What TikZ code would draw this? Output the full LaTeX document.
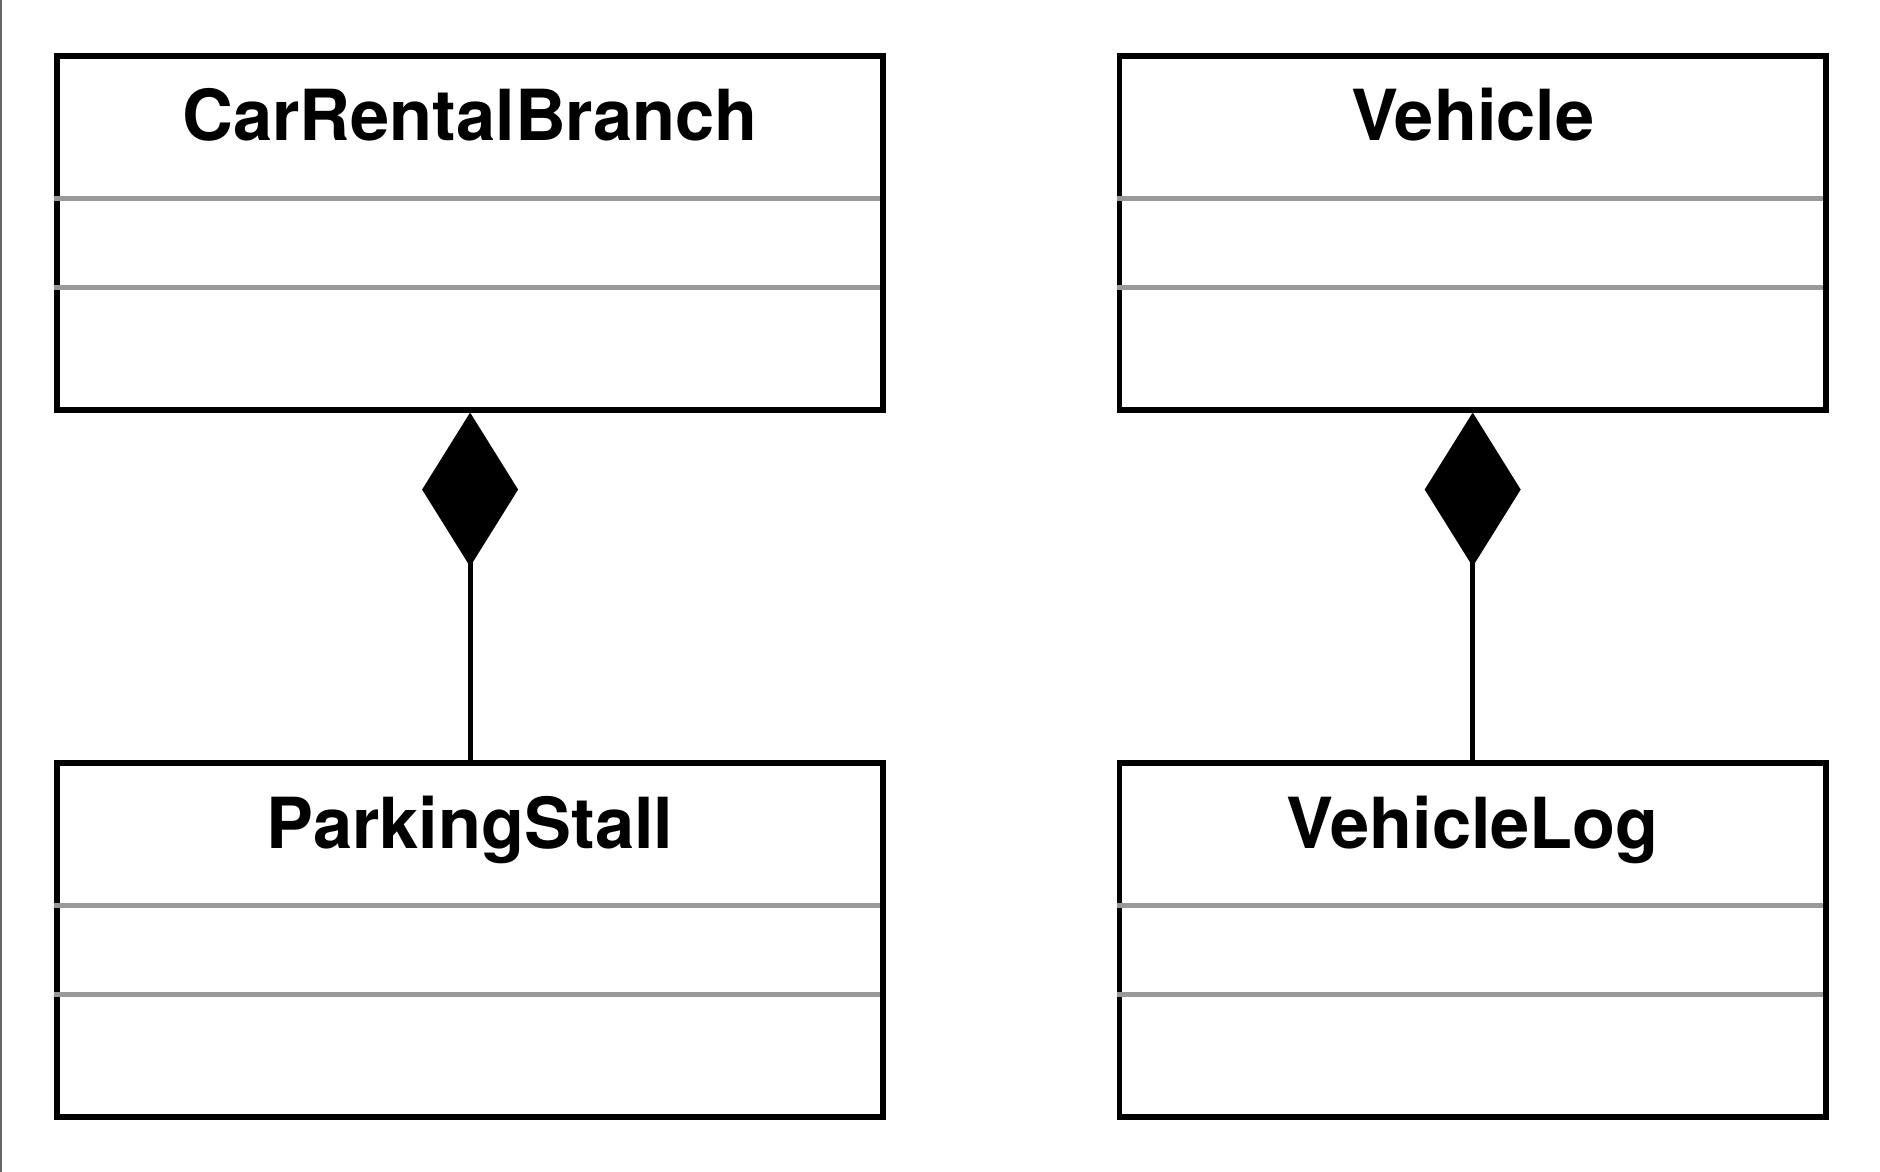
\documentclass[tikz,border=0pt]{standalone}
\usepackage{fontspec}
\setmainfont{TeX Gyre Heros}
\usetikzlibrary{arrows.meta}

\tikzset{
  classbox/.style={draw, line width=2.75pt, minimum height=177pt, inner sep=0pt},
  classname/.style={anchor=base, font=\fontsize{35.2}{42}\selectfont\bfseries},
  sepline/.style={draw=black!40, line width=2.5pt},
  composition/.style={line width=2.4pt, -{Diamond[length=77pt, width=48pt]}}
}

\begin{document}
\begin{tikzpicture}[x=1pt, y=1pt]
		\useasboundingbox (0,0) rectangle (940,-586);
		\draw[black!60, line width=0.8pt] (0.4,0) -- (0.4,-586);
		% classes
		\node[classbox, minimum width=413.1pt] (branch) at (235.05,-116.4) {};
		\node[classbox, minimum width=353.3pt] (vehicle) at (736.35,-116.4) {};
		\node[classbox, minimum width=413.1pt] (stall) at (235.05,-470) {};
		\node[classbox, minimum width=353.3pt] (vlog) at (736.35,-470) {};
		\node[classname] (branchname) at ([yshift=-43.9pt]branch.north) {CarRentalBranch};
		\node[classname] (vehiclename) at ([yshift=-43.9pt]vehicle.north) {Vehicle};
		\node[classname] (stallname) at ([yshift=-43.9pt]stall.north) {ParkingStall};
		\node[classname] (vlogname) at ([yshift=-43.9pt]vlog.north) {VehicleLog};
		% compartments
		\foreach \c in {branch, vehicle, stall, vlog} {
			\draw[sepline] ([yshift=-72.5pt]\c.north west) -- ([xshift=-2.8pt, yshift=-72.5pt]\c.north east);
			\draw[sepline] ([yshift=-117pt]\c.north west) -- ([xshift=-2.8pt, yshift=-117pt]\c.north east);
		}
		% composition
		\draw[composition] (stall.north) -- (branch.south);
		\draw[composition] (vlog.north) -- (vehicle.south);
	\end{tikzpicture}
\end{document}
